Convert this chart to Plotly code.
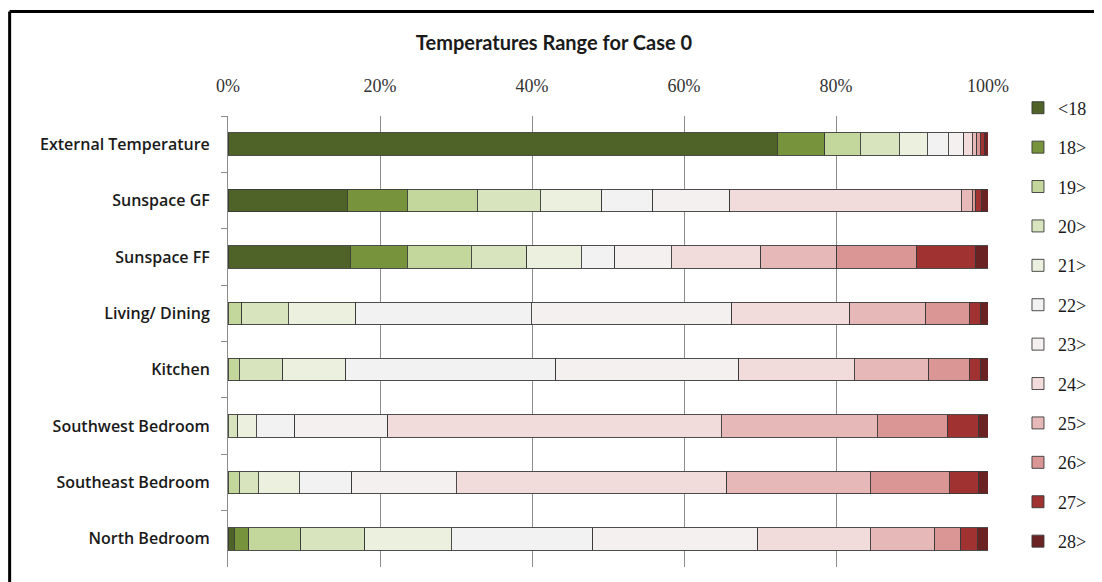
import plotly.graph_objects as go

categories = ["External Temperature", "Sunspace GF", "Sunspace FF", "Living/ Dining",
              "Kitchen", "Southwest Bedroom", "Southeast Bedroom", "North Bedroom"]

series_names = ["<18", "18>", "19>", "20>", "21>", "22>", "23>", "24>", "25>", "26>", "27>", "28>"]

# percentage share of hours per temperature band, per space
v_lt18 = [72.3, 15.7, 16.1, 0.0, 0.0, 0.0, 0.0, 0.8]
v_18 = [6.2, 7.9, 7.5, 0.0, 0.0, 0.0, 0.0, 1.9]
v_19 = [4.7, 9.2, 8.4, 1.8, 1.5, 0.0, 1.5, 6.9]
v_20 = [5.1, 8.3, 7.3, 6.1, 5.7, 1.3, 2.5, 8.4]
v_21 = [3.7, 8.1, 7.2, 8.9, 8.3, 2.4, 5.4, 11.4]
v_22 = [2.8, 6.7, 4.4, 23.1, 27.6, 5.1, 6.9, 18.6]
v_23 = [2.0, 10.1, 7.4, 26.4, 24.1, 12.2, 13.7, 21.7]
v_24 = [1.1, 30.5, 11.8, 15.5, 15.2, 43.9, 35.6, 14.8]
v_25 = [0.6, 1.4, 10.0, 10.0, 9.8, 20.5, 18.9, 8.5]
v_26 = [0.5, 0.5, 10.5, 5.7, 5.3, 9.3, 10.4, 3.4]
v_27 = [0.5, 0.7, 7.7, 1.5, 1.5, 4.1, 3.9, 2.2]
v_28 = [0.5, 0.9, 1.7, 1.0, 1.0, 1.2, 1.2, 1.4]

x_tick_vals = [0, 20, 40, 60, 80, 100]
x_tick_text = ["0%", "20%", "40%", "60%", "80%", "100%"]

all_values = [v_lt18, v_18, v_19, v_20, v_21, v_22, v_23, v_24, v_25, v_26, v_27, v_28]
colors = ["#4f6228", "#77933c", "#c3d69b", "#d7e4bd", "#ebf1de", "#f2f2f2",
          "#f5f0f0", "#f2dcdb", "#e6b9b8", "#d99694", "#a03232", "#6b2222"]

fig = go.Figure()
for name, vals, col in zip(series_names, all_values, colors):
    fig.add_trace(go.Bar(
        y=categories, x=vals, name=name, orientation="h",
        legendgroup=name,
        marker=dict(color=col, line=dict(color="#3a3a3a", width=0.9)),
    ))

# page has an 8px body margin; work in window pixel coordinates
OFF = 8
W, H = 1102 - OFF, 582 - OFF
L, R, T, B = 227.5 - OFF, 988 - OFF, 115.5 - OFF, 567 - OFF


def px_x(p):
    return (p - OFF - L) / (R - L)


def px_y(p):
    return (B - (p - OFF)) / (B - T)


fig.update_layout(
    width=W, height=H,
    barmode="stack", bargap=0.6,
    paper_bgcolor="white", plot_bgcolor="white",
    margin=dict(l=L, r=W - R, t=T, b=H - B, autoexpand=False),
    title=dict(text="Temperatures Range for Case 0", x=(554 - OFF) / W, xanchor="center",
               y=1 - (43 - OFF) / H, yanchor="middle",
               font=dict(family="Lato", size=20, color="#1a1a1a", weight="bold")),
    xaxis=dict(side="top", range=[0, 100], tickvals=x_tick_vals, ticktext=x_tick_text,
               showgrid=True, gridcolor="#8c8c8c", gridwidth=1, zeroline=False,
               showline=False, ticks="outside", ticklen=16, tickcolor="rgba(0,0,0,0)",
               tickfont=dict(family="Liberation Serif", size=18, color="#333333")),
    yaxis=dict(autorange="reversed", showline=True, linecolor="#8c8c8c", linewidth=1,
               ticks="outside", tickson="boundaries", ticklen=6, tickcolor="#8c8c8c",
               ticklabelstandoff=14, showgrid=False,
               tickfont=dict(family="Open Sans", size=16, color="#1a1a1a", weight=600)),
    legend=dict(x=px_x(1018), xanchor="left", y=px_y(89), yanchor="top",
                traceorder="grouped", tracegroupgap=13, maxheight=560,
                font=dict(family="Liberation Serif", size=18, color="#1a1a1a"),
                itemwidth=30, bgcolor="rgba(0,0,0,0)"),
    shapes=[
        dict(type="line", xref="paper", yref="paper", x0=px_x(9), x1=px_x(9),
             y0=px_y(11), y1=px_y(600), line=dict(color="black", width=3)),
        dict(type="line", xref="paper", yref="paper", x0=px_x(9), x1=px_x(1120),
             y0=px_y(11), y1=px_y(11), line=dict(color="black", width=3)),
    ],
)

fig.write_html("out.html")
